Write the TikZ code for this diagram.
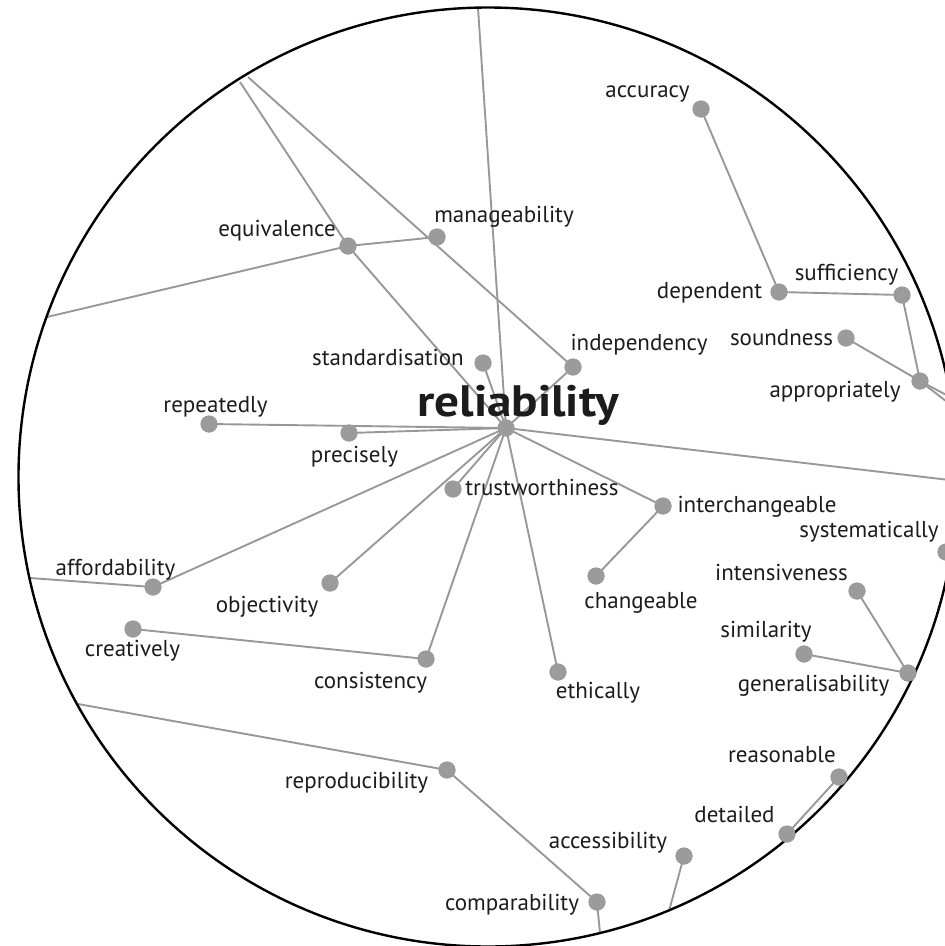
\documentclass[tikz,border=0pt]{standalone}
\usepackage{fontspec}
\setmainfont{PT Sans}
\definecolor{linegrey}{RGB}{152,152,152}
\definecolor{dotgrey}{RGB}{155,155,155}
\definecolor{ink}{RGB}{28,28,28}
\tikzset{
  edge/.style={draw=linegrey, line width=1.9pt},
  term/.style={circle, fill=dotgrey, minimum size=17pt, inner sep=0pt},
  lbl/.style={anchor=base, inner sep=0pt, text=ink, font=\fontsize{23}{27}\selectfont},
  hublbl/.style={anchor=base, inner sep=0pt, text=ink, font=\fontsize{44}{52}\selectfont\bfseries},
  rim/.style={draw=black, line width=2.4pt}
}
\begin{document}
\begin{tikzpicture}[x=1pt,y=-1pt]
\useasboundingbox (0,0) rectangle (945,946);
\clip (0,0) rectangle (945,946);

% term positions
\node[term] (hub) at (506,428) {};
\node[term] (accuracy) at (701,109) {};
\node[term] (dependent) at (779,292) {};
\node[term] (sufficiency) at (902,295) {};
\node[term] (soundness) at (846,338) {};
\node[term] (appropriately) at (920,381) {};
\node[term] (independency) at (573,367) {};
\node[term] (manageability) at (437,237) {};
\node[term] (equivalence) at (348,246) {};
\node[term] (standardisation) at (483,363) {};
\node[term] (repeatedly) at (209,424) {};
\node[term] (precisely) at (349,433) {};
\node[term] (trustworthiness) at (453,489) {};
\node[term] (affordability) at (153,587) {};
\node[term] (objectivity) at (330,583) {};
\node[term] (creatively) at (133,629) {};
\node[term] (consistency) at (426,659) {};
\node[term] (reproducibility) at (447,770) {};
\node[term] (comparability) at (597,902) {};
\node[term] (accessibility) at (684,856) {};
\node[term] (detailed) at (787,834) {};
\node[term] (reasonable) at (839,777) {};
\node[term] (ethically) at (558,672) {};
\node[term] (changeable) at (596,576) {};
\node[term] (interchangeable) at (663,506) {};
\node[term] (systematically) at (946,552) {};
\node[term] (intensiveness) at (857,591) {};
\node[term] (similarity) at (804,654) {};
\node[term] (generalisability) at (908,673) {};

% points where links leave the rim
\coordinate (rimTop) at (478,8);
\coordinate (rimTLa) at (240,82);
\coordinate (rimTLb) at (248,77);
\coordinate (rimLa) at (47,317);
\coordinate (rimLb) at (30,578);
\coordinate (rimLc) at (78,704);
\coordinate (rimBa) at (600,933);
\coordinate (rimBb) at (669,911);
\coordinate (rimR) at (958,481);
\coordinate (rimRa) at (952,398);
\coordinate (rimRb) at (951,405);

% links
\draw[edge] (hub.center) -- (rimTop);
\draw[edge] (hub.center) -- (rimR);
\draw[edge] (hub.center) -- (standardisation.center);
\draw[edge] (hub.center) -- (independency.center);
\draw[edge] (hub.center) -- (equivalence.center);
\draw[edge] (hub.center) -- (repeatedly.center);
\draw[edge] (hub.center) -- (precisely.center);
\draw[edge] (hub.center) -- (trustworthiness.center);
\draw[edge] (hub.center) -- (affordability.center);
\draw[edge] (hub.center) -- (objectivity.center);
\draw[edge] (hub.center) -- (consistency.center);
\draw[edge] (hub.center) -- (ethically.center);
\draw[edge] (hub.center) -- (interchangeable.center);
\draw[edge] (rimTLb) -- (independency.center);
\draw[edge] (rimTLa) -- (equivalence.center);
\draw[edge] (rimLa) -- (equivalence.center);
\draw[edge] (equivalence.center) -- (manageability.center);
\draw[edge] (rimLb) -- (affordability.center);
\draw[edge] (creatively.center) -- (consistency.center);
\draw[edge] (rimLc) -- (reproducibility.center);
\draw[edge] (reproducibility.center) -- (comparability.center);
\draw[edge] (comparability.center) -- (rimBa);
\draw[edge] (accessibility.center) -- (rimBb);
\draw[edge] (detailed.center) -- (reasonable.center);
\draw[edge] (changeable.center) -- (interchangeable.center);
\draw[edge] (intensiveness.center) -- (generalisability.center);
\draw[edge] (similarity.center) -- (generalisability.center);
\draw[edge] (accuracy.center) -- (dependent.center);
\draw[edge] (dependent.center) -- (sufficiency.center);
\draw[edge] (sufficiency.center) -- (appropriately.center);
\draw[edge] (soundness.center) -- (appropriately.center);
\draw[edge] (appropriately.center) -- (rimRa);
\draw[edge] (appropriately.center) -- (rimRb);

% outer rim
\draw[rim] (488,477) circle [radius=469.5];

% dots on top of the links
\foreach \t in {hub,accuracy,dependent,sufficiency,soundness,appropriately,independency,
  manageability,equivalence,standardisation,repeatedly,precisely,trustworthiness,
  affordability,objectivity,creatively,consistency,reproducibility,comparability,
  accessibility,detailed,reasonable,ethically,changeable,interchangeable,
  systematically,intensiveness,similarity,generalisability}
  \fill[dotgrey] (\t.center) circle [radius=8.5pt];

% labels
\node[hublbl] (hub-l) at (518,416) {\scalebox{1.12}[1]{reliability}};
\node[lbl] (accuracy-l) at (647.5,97) {accuracy};
\node[lbl] (dependent-l) at (709.5,298) {dependent};
\node[lbl] (sufficiency-l) at (846.5,280) {sufficiency};
\node[lbl] (soundness-l) at (781.5,345) {soundness};
\node[lbl] (appropriately-l) at (835,397) {appropriately};
\node[lbl] (independency-l) at (639,350) {independency};
\node[lbl] (manageability-l) at (504,222) {manageability};
\node[lbl] (equivalence-l) at (277,236) {equivalence};
\node[lbl] (standardisation-l) at (388,365) {standardisation};
\node[lbl] (repeatedly-l) at (215.5,412) {repeatedly};
\node[lbl] (precisely-l) at (354.5,462) {precisely};
\node[lbl] (trustworthiness-l) at (542,495) {trustworthiness};
\node[lbl] (affordability-l) at (115.5,575) {affordability};
\node[lbl] (objectivity-l) at (267,612) {objectivity};
\node[lbl] (creatively-l) at (132.5,656) {creatively};
\node[lbl] (consistency-l) at (370.5,688) {consistency};
\node[lbl] (reproducibility-l) at (356.5,788) {reproducibility};
\node[lbl] (comparability-l) at (512,910) {comparability};
\node[lbl] (accessibility-l) at (608,848) {accessibility};
\node[lbl] (detailed-l) at (734.5,822) {detailed};
\node[lbl] (reasonable-l) at (782,762) {reasonable};
\node[lbl] (ethically-l) at (598,698) {ethically};
\node[lbl] (changeable-l) at (641,608) {changeable};
\node[lbl] (interchangeable-l) at (757,512) {interchangeable};
\node[lbl] (systematically-l) at (869,537) {systematically};
\node[lbl] (intensiveness-l) at (781.5,580) {intensiveness};
\node[lbl] (similarity-l) at (766,637) {similarity};
\node[lbl] (generalisability-l) at (813.5,691) {generalisability};
\end{tikzpicture}
\end{document}
